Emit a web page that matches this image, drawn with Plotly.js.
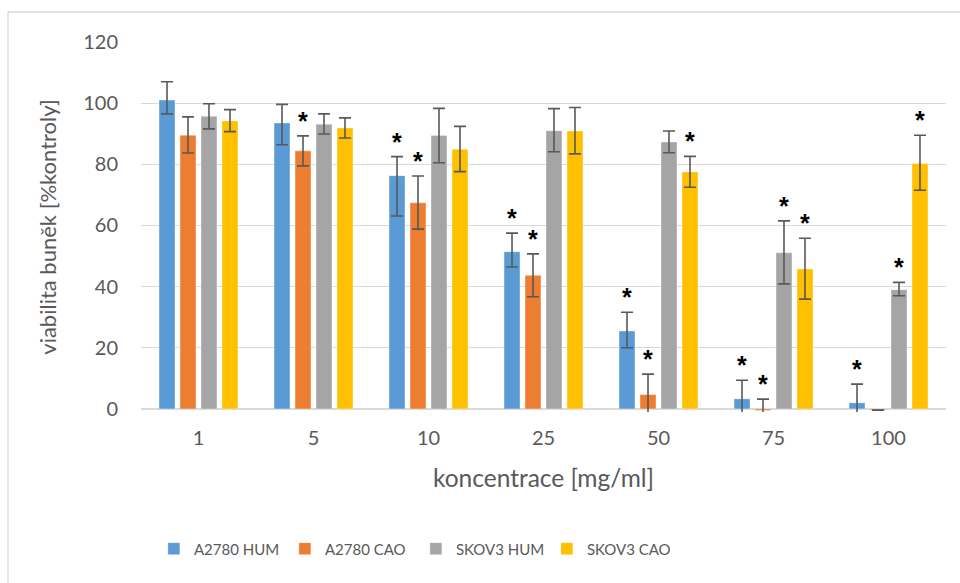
<!DOCTYPE html>
<html>
<head>
<meta charset="utf-8">
<script src="https://cdn.plot.ly/plotly-3.0.1.min.js"></script>
<style>html,body{margin:0;padding:0;background:#fff;}#chart{width:960px;height:583px;}</style>
</head>
<body>
<div id="chart"></div>
<script>
// Data
const categories = ["1", "5", "10", "25", "50", "75", "100"];
const seriesNames = ["A2780 HUM", "A2780 CAO", "SKOV3 HUM", "SKOV3 CAO"];
const a2780Hum = [101.0, 93.5, 76.3, 51.4, 25.5, 3.3, 2.0];
const a2780HumErrPlus = [6.0, 6.1, 6.2, 6.1, 6.1, 6.1, 6.1];
const a2780HumErrMinus = [4.5, 7.1, 13.2, 5.0, 5.5, 6.1, 6.1];
const a2780Cao = [89.5, 84.4, 67.4, 43.7, 4.7, -0.5, -0.4];
const a2780CaoErrPlus = [6.0, 4.9, 8.8, 7.0, 6.7, 3.7, 0];
const a2780CaoErrMinus = [5.8, 4.9, 8.6, 7.0, 6.7, 3.7, 0];
const skov3Hum = [95.7, 93.1, 89.4, 91.0, 87.3, 51.1, 39.0];
const skov3HumErrPlus = [4.1, 3.4, 8.9, 7.2, 3.6, 10.4, 2.4];
const skov3HumErrMinus = [4.1, 3.2, 8.9, 6.9, 3.5, 10.2, 2.0];
const skov3Cao = [94.2, 91.9, 84.9, 90.9, 77.5, 45.8, 80.3];
const skov3CaoErrPlus = [3.7, 3.3, 7.5, 7.7, 5.1, 10.0, 9.2];
const skov3CaoErrMinus = [3.5, 3.3, 7.3, 7.5, 5.0, 9.9, 8.8];
// significance markers (1 = asterisk)
const a2780HumSig = [0, 0, 1, 1, 1, 1, 1];
const a2780CaoSig = [0, 1, 1, 1, 1, 1, 0];
const skov3HumSig = [0, 0, 0, 0, 0, 1, 1];
const skov3CaoSig = [0, 0, 0, 0, 1, 1, 1];

const colors = ["#5B9BD5", "#ED7D31", "#A5A5A5", "#FFC000"];
const values = [a2780Hum, a2780Cao, skov3Hum, skov3Cao];
const errPlus = [a2780HumErrPlus, a2780CaoErrPlus, skov3HumErrPlus, skov3CaoErrPlus];
const errMinus = [a2780HumErrMinus, a2780CaoErrMinus, skov3HumErrMinus, skov3CaoErrMinus];
const sigs = [a2780HumSig, a2780CaoSig, skov3HumSig, skov3CaoSig];

const FONT = "Lato, 'Open Sans', sans-serif";
const bargap = 0.27, bargroupgap = 0.24;

const traces = seriesNames.map((name, i) => ({
  type: "bar",
  name: name,
  x: categories,
  y: values[i],
  marker: {color: colors[i], line: {color: "rgba(255,255,255,0.35)", width: 1}},
  error_y: {
    type: "data", symmetric: false,
    array: errPlus[i], arrayminus: errMinus[i],
    color: "#595959", thickness: 1.6, width: 6
  }
}));

// asterisk annotations above error bars
const annotations = [];
const slot = (1 - bargap) / 4;
sigs.forEach((sig, i) => {
  sig.forEach((s, j) => {
    if (s) {
      annotations.push({
        x: j + (i - 1.5) * slot,
        y: values[i][j] + errPlus[i][j],
        xref: "x", yref: "y",
        text: "<b>*</b>", showarrow: false,
        yanchor: "bottom", yshift: -1,
        font: {family: "'Liberation Sans', Arial, sans-serif", size: 25, color: "#000000"}
      });
    }
  });
});

const layout = {
  width: 960, height: 583,
  margin: {l: 141, r: 14, t: 42, b: 171},
  paper_bgcolor: "#fff", plot_bgcolor: "#fff",
  barmode: "group", bargap: bargap, bargroupgap: bargroupgap,
  font: {family: FONT, color: "#595959", size: 20},
  showlegend: true,
  legend: {
    orientation: "h", x: 0.016, xanchor: "left", y: -0.37, yanchor: "middle",
    font: {family: FONT, size: 15, color: "#595959"},
    entrywidth: 86, entrywidthmode: "pixels",
    itemwidth: 30, traceorder: "normal"
  },
  xaxis: {
    type: "category",
    showgrid: false, zeroline: false,
    showline: false, ticks: "",
    tickfont: {family: FONT, size: 20, color: "#595959"},
    ticklabelstandoff: 12,
    title: {text: "koncentrace [mg/ml]", font: {family: FONT, size: 24.5, color: "#595959"}, standoff: 21}
  },
  yaxis: {
    range: [-1, 120], tickvals: [0, 20, 40, 60, 80, 100, 120],
    showgrid: true, gridcolor: "#D9D9D9", gridwidth: 1.3,
    zeroline: true, zerolinecolor: "#D9D9D9", zerolinewidth: 1.3,
    showline: false, ticks: "",
    tickfont: {family: FONT, size: 20, color: "#595959"},
    ticklabelstandoff: 22,
    title: {text: "viabilita buněk [%kontroly]", font: {family: FONT, size: 22, color: "#595959"}, standoff: 20}
  },
  shapes: [{
    type: "rect", xref: "paper", yref: "paper",
    x0: -133/805, x1: 1.1, y0: -1, y1: 1 + 30/370,
    line: {color: "#D9D9D9", width: 1.3}, fillcolor: "rgba(0,0,0,0)", layer: "below"
  }],
  annotations: annotations
};

Plotly.newPlot("chart", traces, layout, {displayModeBar: false, staticPlot: true});
</script>
</body>
</html>
